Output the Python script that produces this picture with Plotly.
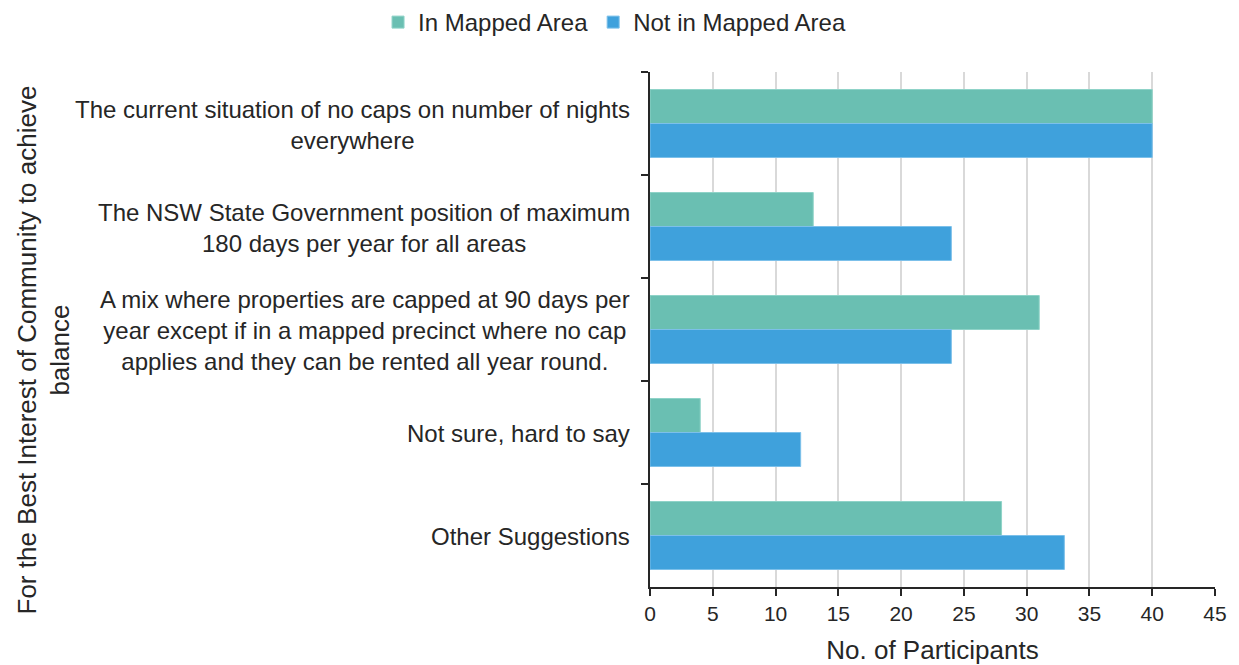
import plotly.graph_objects as go

categories = [
    "The current situation of no caps on number of nights<br>everywhere",
    "The NSW State Government position of maximum<br>180 days per year for all areas",
    "A mix where properties are capped at 90 days per<br>year except if in a mapped precinct where no cap<br>applies and they can be rented all year round.",
    "Not sure, hard to say",
    "Other Suggestions",
]
keys = ["c1", "c2", "c3", "c4", "c5"]
in_mapped = [40, 13, 31, 4, 28]
not_in_mapped = [40, 24, 24, 12, 33]
x_ticks = [0, 5, 10, 15, 20, 25, 30, 35, 40, 45]

FONT = "Liberation Sans, Arial, sans-serif"
TXT = "#262626"

fig = go.Figure()
fig.add_trace(go.Bar(
    y=keys, x=in_mapped, orientation="h", name="In Mapped Area",
    marker=dict(color="#6ABFB2", line=dict(color="#8fd3c8", width=1)),
))
fig.add_trace(go.Bar(
    y=keys, x=not_in_mapped, orientation="h", name="Not in Mapped Area",
    marker=dict(color="#3FA1DC", line=dict(color="#7cc0ea", width=1)),
))

# category labels, centred multi-line text to the left of the axis
for k, label in zip(keys, categories):
    fig.add_annotation(
        x=0, xref="paper", y=k, yref="y", text=label, showarrow=False,
        xanchor="right", align="center", xshift=-18, yshift=-1,
        font=dict(family=FONT, size=24, color=TXT),
    )

fig.add_annotation(
    x=0, xref="paper", y=0.5, yref="paper", xanchor="center", yanchor="middle",
    xshift=-607, yshift=-21,
    text="For the Best Interest of Community to achieve<br>balance",
    textangle=-90, showarrow=False, align="center",
    font=dict(family=FONT, size=26, color=TXT),
)

fig.update_layout(
    width=1239, height=665,
    margin=dict(l=650, r=24, t=72, b=78),
    paper_bgcolor="white", plot_bgcolor="white",
    barmode="group", bargap=0.34, bargroupgap=0,
    font=dict(family=FONT, size=18, color=TXT),
    legend=dict(
        orientation="h", x=0.496, xanchor="center", xref="container",
        y=1.0, yanchor="top", yref="container",
        font=dict(family=FONT, size=24, color=TXT),
        itemwidth=30, traceorder="normal",
    ),
    xaxis=dict(
        range=[0, 45], tickvals=x_ticks, showgrid=True, gridcolor="#d9d9d9", gridwidth=2,
        showline=True, linecolor="#262626", linewidth=2,
        ticks="outside", ticklen=7, tickcolor="#262626", tickwidth=2,
        tickfont=dict(family=FONT, size=21, color=TXT), zeroline=False,
        automargin=False,
        title=dict(text="No. of Participants", font=dict(family=FONT, size=26, color=TXT), standoff=20),
    ),
    yaxis=dict(
        type="category", categoryorder="array", categoryarray=keys,
        autorange="reversed", showticklabels=False,
        tickson="boundaries", ticks="outside", ticklen=7, tickcolor="#262626", tickwidth=2,
        showline=True, linecolor="#262626", linewidth=2, showgrid=False,
    ),
)

fig.write_html("out.html")
